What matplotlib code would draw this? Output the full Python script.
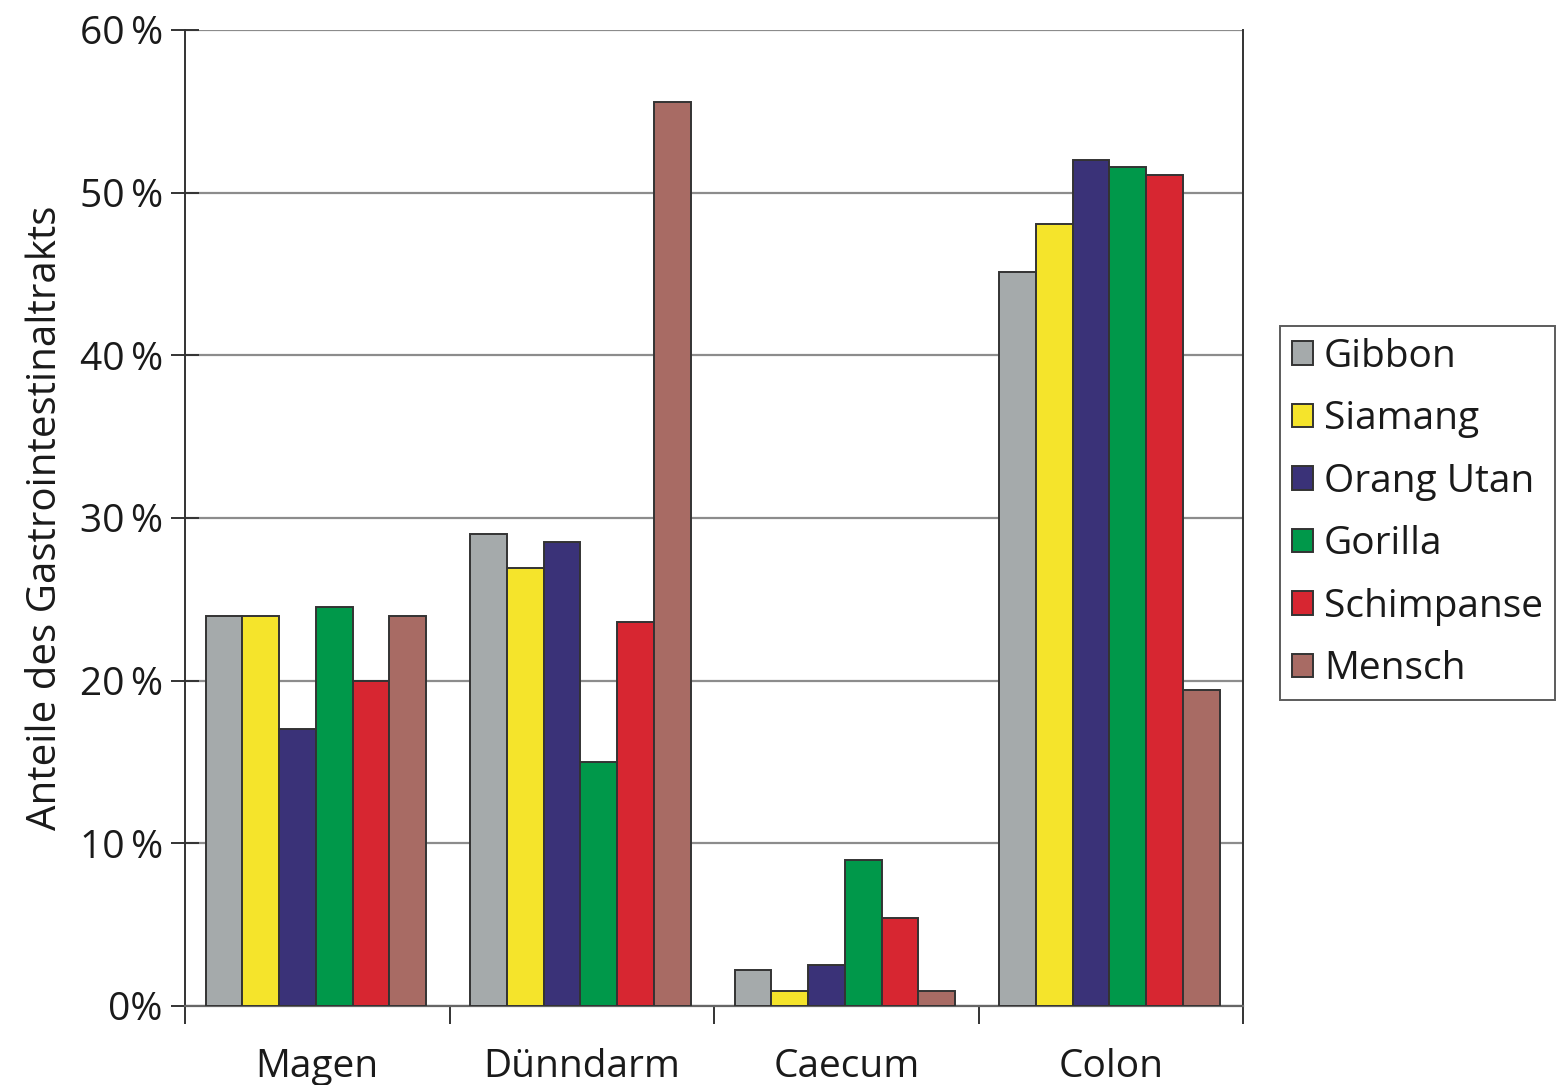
import numpy as np
import matplotlib.pyplot as plt
from matplotlib.ticker import FixedLocator

plt.rcParams['font.family'] = ['Open Sans', 'DejaVu Sans']

categories = ["Magen", "Dünndarm", "Caecum", "Colon"]
species = ["Gibbon", "Siamang", "Orang Utan", "Gorilla", "Schimpanse", "Mensch"]
colors = ["#a5aaab", "#f5e42b", "#3a3278", "#00984a", "#d72631", "#a86b64"]

gibbon = [24.0, 29.0, 2.2, 45.1]
siamang = [24.0, 26.9, 0.9, 48.1]
orang_utan = [17.0, 28.5, 2.5, 52.0]
gorilla = [24.5, 15.0, 9.0, 51.6]
schimpanse = [20.0, 23.6, 5.4, 51.1]
mensch = [24.0, 55.6, 0.9, 19.4]
series = [gibbon, siamang, orang_utan, gorilla, schimpanse, mensch]

yticks = [0, 10, 20, 30, 40, 50, 60]
txt = "#1a1a1a"

fig = plt.figure(figsize=(15.62, 10.85), dpi=100)
ax = fig.add_axes([185 / 1562, 1 - 1006 / 1085, (1243 - 185) / 1562, (1006 - 30) / 1085])

x = np.arange(len(categories))
w = 0.139
for i, (vals, name, col) in enumerate(zip(series, species, colors)):
    ax.bar(x + (i - 2.5) * w - 0.005, vals, w, color=col, edgecolor="#333333",
           linewidth=1.4, label=name, zorder=3)

ax.set_xlim(-0.5, 3.5)
ax.set_ylim(0, 60)

# y axis: gridlines plus ticks crossing the left spine
ax.set_yticks(yticks)
ax.set_yticklabels([f"{v}\u2009%" if v else "0%" for v in yticks])
ax.yaxis.grid(True, color="#8c8c8c", linewidth=1.6, zorder=0)
ax.tick_params(axis="y", direction="inout", length=20, width=1.4,
               color="#333333", labelsize=28, pad=6, labelcolor=txt)

# x axis: labels at group centres, ticks at group boundaries
ax.xaxis.set_major_locator(FixedLocator(x))
ax.set_xticklabels(categories)
ax.xaxis.set_minor_locator(FixedLocator(np.arange(-0.5, 4, 1.0)))
ax.tick_params(axis="x", which="major", length=0, labelsize=28, pad=30,
               labelcolor=txt)
ax.tick_params(axis="x", which="minor", direction="out", length=13, width=1.4,
               color="#333333")

for side in ["left", "right"]:
    ax.spines[side].set_color("#333333")
    ax.spines[side].set_linewidth(1.4)
ax.spines["bottom"].set_color("#666666")
ax.spines["bottom"].set_linewidth(1.6)
ax.spines["top"].set_visible(False)

ax.set_ylabel("Anteile des Gastrointestinaltrakts", fontsize=29, color=txt,
              labelpad=10)

leg = fig.legend(loc="upper left", bbox_to_anchor=(1280 / 1562, 1 - 326 / 1085),
                 fontsize=28, frameon=True, fancybox=False, handlelength=0.55,
                 handleheight=0.55, handletextpad=0.28, labelspacing=0.63,
                 borderpad=0.3, borderaxespad=0)
leg.get_frame().set_edgecolor("#333333")
leg.get_frame().set_linewidth(1.4)
for t in leg.get_texts():
    t.set_color(txt)

fig.savefig("out.png", dpi=100)
